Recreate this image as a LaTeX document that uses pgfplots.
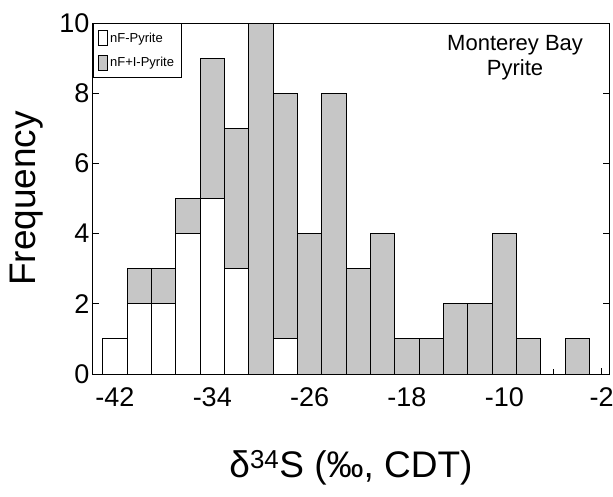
\documentclass[border=0pt]{standalone}
\usepackage{pgfplots}
\pgfplotsset{compat=1.18}
\usepackage{fontspec}
\setmainfont{Liberation Sans}

% bin centre, F-pyrite count, F+I-pyrite count
\pgfplotstableread{
x ff fi
-42 1 0
-40 2 1
-38 2 1
-36 4 1
-34 5 4
-32 3 4
-30 0 10
-28 1 7
-26 0 4
-24 0 8
-22 0 3
-20 0 4
-18 0 1
-16 0 1
-14 0 2
-12 0 2
-10 0 4
-8 0 1
-6 0 0
-4 0 1
}\pyrite

\begin{document}
\begin{tikzpicture}
\useasboundingbox (-93pt,-122pt) rectangle (520pt,374pt);
\begin{axis}[
    scale only axis,
    width=516pt, height=351pt,
    xmin=-43.8, xmax=-1.4,
    ymin=0, ymax=10,
    ybar stacked,
    bar width=2,
    xtick={-42,-34,...,-2},
    minor xtick={-38,-30,...,-6},
    ytick={0,2,...,10},
    xtick pos=left,
    ytick pos=both,
    major tick length=6pt,
    minor tick length=5pt,
    tick style={black, line width=0.8pt},
    axis line style={line width=1pt},
    /pgf/number format/assume math mode=true,
    ticklabel style={font=\fontsize{27}{27}\selectfont},
    xticklabel style={yshift=-10pt},
    xlabel={δ\textsuperscript{34}S (‰, CDT)},
    ylabel={Frequency},
    label style={font=\fontsize{37}{37}\selectfont},
    xlabel style={at={(axis description cs:0.5,-0.268)}, anchor=center},
    ylabel style={at={(axis description cs:-0.128,0.5)}, anchor=center},
    legend image code/.code={\draw[#1, draw=black, line width=0.7pt] (0pt,-7.5pt) rectangle (9pt,7.5pt);},
    legend style={at={(0,1)}, anchor=north west, draw=black, line width=0.8pt,
        font=\fontsize{13}{13}\selectfont, row sep=9pt, inner xsep=5pt, inner ysep=7pt},
    legend cell align=left,
]
\addplot[draw=black, fill=white, line width=0.9pt] table[x=x, y=ff] {\pyrite};
\addlegendentry{nF-Pyrite}
\addplot[draw=black, fill=gray!45, line width=0.9pt] table[x=x, y=fi] {\pyrite};
\addlegendentry{nF+I-Pyrite}
\node[anchor=north, align=center, font=\fontsize{22}{25}\selectfont]
    at (rel axis cs:0.818,0.975) {Monterey Bay\\Pyrite};
\end{axis}
\end{tikzpicture}
\end{document}
